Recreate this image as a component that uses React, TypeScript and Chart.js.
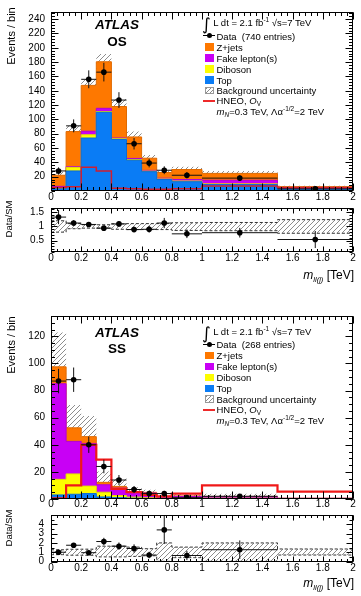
import React, { useEffect, useRef } from 'react';
import { Chart, registerables } from 'chart.js';

Chart.register(...registerables);

const FONT = "'Liberation Sans', Arial, Helvetica, sans-serif";
Chart.defaults.font.family = FONT;
Chart.defaults.color = '#000';

// ---------------- binning / ticks ----------------
const binEdges = [0, 0.1, 0.2, 0.3, 0.4, 0.5, 0.6, 0.7, 0.8, 1.0, 1.5, 2.0];
const xTickValues = [0, 0.2, 0.4, 0.6, 0.8, 1, 1.2, 1.4, 1.6, 1.8, 2];

// ---------------- OS ----------------
const osTop = [3, 28, 74, 110, 72, 43, 27, 16, 13, 9, 2];
const osDiboson = [0.5, 5, 4.5, 1, 1, 1, 0.8, 0.8, 1, 1, 0.5];
const osFake = [3, 1, 5, 4.5, 1, 1.5, 1, 1, 2, 5, 1];
const osZjets = [15.5, 49, 64, 65, 44, 30, 17, 8, 14, 9.6, 2.5];
const osSignal = [5, 6, 33, 28, 4, 3, 2.5, 2.5, 3, 7, 5];
const osData = [28, 91, 156, 166, 127, 66, 39, 29, 22, 18, 3];
const osDataErr = [5, 9, 12.5, 13, 11, 8, 6, 5.5, 4.5, 4, 2];
const osBandLo = [0.8, 0.92, 0.94, 0.94, 0.9, 0.89, 0.89, 0.89, 0.86, 0.85, 0.76];
const osBandHi = [1.2, 1.1, 1.06, 1.06, 1.09, 1.1, 1.1, 1.1, 1.13, 1.14, 1.24];
const osRatio = [1.33, 1.12, 1.07, 0.94, 1.09, 0.89, 0.9, 1.12, 0.74, 0.78, 0.54];
const osRatioErr = [0.25, 0.1, 0.08, 0.07, 0.09, 0.1, 0.12, 0.18, 0.15, 0.17, 0.3];
const osYTicks = [20, 40, 60, 80, 100, 120, 140, 160, 180, 200, 220, 240];
const osRatioTicks = [0.5, 1, 1.5];

// ---------------- SS ----------------
const ssTop = [3, 3.5, 4, 1.5, 1, 0.6, 0.4, 0.2, 0.2, 0.2, 0.1];
const ssDiboson = [11.5, 15, 5.5, 3.5, 1.5, 0.8, 0.5, 0.3, 0.5, 0.4, 0.2];
const ssFake = [70.5, 24, 31.5, 5.5, 5.5, 3.5, 3.5, 0.6, 1.2, 1.0, 0.2];
const ssZjets = [12.5, 10, 5, 1.8, 1.3, 0.7, 0.5, 0.2, 0.4, 0.3, 0.1];
const ssSignal = [0.5, 10, 40, 29, 7.5, 5, 3, 2, 4, 10, 5.5];
const ssData = [87, 88, 40, 24, 14, 7, 4, 4, 1, 2, null];
const ssDataErr = [9, 9, 6, 5, 3.7, 2.6, 2, 2, 1, 1.4, 0];
const ssBandLo = [0.74, 0.68, 0.67, 0.5, 0.5, 0.55, 0.62, 0.02, 0.42, 0.02, 0.7];
const ssBandHi = [1.26, 1.32, 1.33, 1.65, 1.65, 1.55, 1.38, 2.0, 1.55, 2.0, 1.35];
const ssRatio = [1.0, 1.75, 0.95, 2.15, 1.65, 1.4, 0.7, 3.4, 0.65, 1.27, null];
const ssRatioErr = [0.15, 0.2, 0.2, 0.4, 0.4, 0.45, 0.35, 1.5, 0.5, 1.0, 0];
const ssYTicks = [0, 20, 40, 60, 80, 100, 120];
const ssRatioTicks = [0, 1, 2, 3, 4];

// ---------------- colours ----------------
const C_Z = '#fe7800';
const C_FAKE = '#c800f5';
const C_DIB = '#fdfd00';
const C_TOP = '#0a7cf5';

// ---------------- helpers ----------------
const centers = binEdges.slice(0, -1).map((e, i) => (e + binEdges[i + 1]) / 2);
const halfWidths = binEdges.slice(0, -1).map((e, i) => (binEdges[i + 1] - e) / 2);

function steps(vals: number[]) {
  return binEdges.map((x, i) => ({ x, y: vals[Math.min(i, vals.length - 1)] }));
}
function addArr(...arrs: number[][]) {
  return arrs[0].map((_, i) => arrs.reduce((s, a) => s + a[i], 0));
}
function errorBars(vals: (number | null)[], errs: number[]) {
  const pts: any[] = [];
  vals.forEach((v, i) => {
    if (v == null) return;
    const c = centers[i];
    pts.push({ x: c - halfWidths[i], y: v }, { x: c + halfWidths[i], y: v }, { x: c, y: null });
    pts.push({ x: c, y: v - errs[i] }, { x: c, y: v + errs[i] }, { x: c, y: null });
  });
  return pts;
}
function points(vals: (number | null)[]) {
  return vals.map((v, i) => ({ x: centers[i], y: v }));
}
function fmt(v: number) {
  return String(Math.round(v * 100) / 100);
}

function makeHatch(): CanvasPattern | string {
  const s = 5;
  const pc = document.createElement('canvas');
  pc.width = s;
  pc.height = s;
  const c = pc.getContext('2d');
  if (!c) return 'rgba(120,120,120,0.4)';
  c.strokeStyle = '#808080';
  c.lineWidth = 0.9;
  c.beginPath();
  c.moveTo(0, s);
  c.lineTo(s, 0);
  c.moveTo(-1, 1);
  c.lineTo(1, -1);
  c.moveTo(s - 1, s + 1);
  c.lineTo(s + 1, s - 1);
  c.stroke();
  return c.createPattern(pc, 'repeat') || 'rgba(120,120,120,0.4)';
}

const framePlugin = {
  id: 'frameTicks',
  afterDatasetsDraw(chart: any, _args: any, opts: any) {
    const { ctx, chartArea: a, scales } = chart;
    const xs = scales.x;
    const ys = scales.y;
    const L = Math.round(a.left) + 0.5;
    const T = Math.round(a.top) + 0.5;
    const R = Math.round(a.right) - 0.5;
    const B = Math.round(a.bottom) - 0.5;
    ctx.save();
    ctx.strokeStyle = '#000';
    ctx.lineWidth = 1;
    ctx.beginPath();
    const vals = (scale: any, div: number) => {
      const majors = scale.ticks.map((t: any) => t.value);
      const step = majors.length > 1 ? majors[1] - majors[0] : 1;
      const ms = step / div;
      const minors: number[] = [];
      for (let v = majors[0] - step; v <= majors[majors.length - 1] + step + 1e-9; v += ms) {
        if (v < scale.min - 1e-9 || v > scale.max + 1e-9) continue;
        minors.push(v);
      }
      return { majors, minors };
    };
    const xv = vals(xs, opts.xDiv);
    const yv = vals(ys, opts.yDiv);
    const xt = (v: number, len: number) => {
      const p = Math.round(xs.getPixelForValue(v)) + 0.5;
      ctx.moveTo(p, B);
      ctx.lineTo(p, B - len);
      ctx.moveTo(p, T);
      ctx.lineTo(p, T + len);
    };
    const yt = (v: number, len: number) => {
      const p = Math.round(ys.getPixelForValue(v)) + 0.5;
      ctx.moveTo(L, p);
      ctx.lineTo(L + len, p);
      ctx.moveTo(R, p);
      ctx.lineTo(R - len, p);
    };
    xv.minors.forEach((v) => xt(v, opts.xMinor));
    xv.majors.forEach((v: number) => xt(v, opts.xMajor));
    yv.minors.forEach((v) => yt(v, opts.yMinor));
    yv.majors.forEach((v: number) => yt(v, opts.yMajor));
    ctx.stroke();
    ctx.strokeRect(L, T, R - L, B - T);
    ctx.restore();
  },
};

function baseOptions(p: {
  padTop: number;
  xHeight: number;
  xPad: number;
  yPad: number;
  yMin: number;
  yMax: number;
  yTicks: number[];
  frame: any;
}) {
  return {
    responsive: false,
    animation: false,
    events: [],
    layout: { padding: { top: p.padTop, right: 8, left: 0, bottom: 0 } },
    elements: { line: { tension: 0 }, point: { radius: 0 } },
    plugins: {
      legend: { display: false },
      tooltip: { enabled: false },
      title: { display: false },
      frameTicks: p.frame,
    },
    scales: {
      x: {
        type: 'linear',
        min: 0,
        max: 2,
        grid: { display: false, drawTicks: false },
        border: { display: false },
        ticks: {
          autoSkip: false,
          maxRotation: 0,
          padding: p.xPad,
          font: { size: 10, family: FONT },
          color: '#000',
          callback: (v: number) => fmt(v),
        },
        afterBuildTicks: (s: any) => {
          s.ticks = xTickValues.map((value) => ({ value }));
        },
        afterFit: (s: any) => {
          s.height = p.xHeight;
        },
      },
      y: {
        type: 'linear',
        min: p.yMin,
        max: p.yMax,
        grid: { display: false, drawTicks: false },
        border: { display: false },
        ticks: {
          autoSkip: false,
          padding: p.yPad,
          font: { size: 10, family: FONT },
          color: '#000',
          callback: (v: number) => fmt(v),
        },
        afterBuildTicks: (s: any) => {
          s.ticks = p.yTicks.map((value) => ({ value }));
        },
        afterFit: (s: any) => {
          s.width = 51;
        },
      },
    },
  };
}

function stepLine(extra: any) {
  return {
    stepped: 'before',
    pointRadius: 0,
    borderWidth: 0,
    fill: false,
    ...extra,
  };
}

function makeMain(
  canvas: HTMLCanvasElement,
  hatch: any,
  d: {
    top: number[];
    dib: number[];
    fake: number[];
    zj: number[];
    sig: number[];
    data: (number | null)[];
    err: number[];
    lo: number[];
    hi: number[];
    yMax: number;
    yTicks: number[];
    yDiv: number;
    padTop: number;
    xHeight: number;
    xPad: number;
    sigColor: string;
    sigWidth: number;
  }
) {
  const total = addArr(d.top, d.dib, d.fake, d.zj);
  const c3 = addArr(d.top, d.dib, d.fake);
  const c2 = addArr(d.top, d.dib);
  const hiV = total.map((t, i) => t * d.hi[i]);
  const loV = total.map((t, i) => t * d.lo[i]);
  return new Chart(canvas, {
    type: 'line',
    data: {
      datasets: [
        stepLine({ label: 'band lo', data: steps(loV), order: 20 }),
        stepLine({ label: 'Background uncertainty', data: steps(hiV), fill: '-1', backgroundColor: hatch, order: 19 }),
        stepLine({ label: 'Z+jets', data: steps(total), fill: 'origin', backgroundColor: C_Z, borderColor: '#e06a00', borderWidth: 1, order: 9 }),
        stepLine({ label: 'Fake lepton(s)', data: steps(c3), fill: 'origin', backgroundColor: C_FAKE, borderColor: '#b000d8', borderWidth: 1, order: 8 }),
        stepLine({ label: 'Diboson', data: steps(c2), fill: 'origin', backgroundColor: C_DIB, borderColor: '#e0e000', borderWidth: 1, order: 7 }),
        stepLine({ label: 'Top', data: steps(d.top), fill: 'origin', backgroundColor: C_TOP, borderColor: '#086ad8', borderWidth: 1, order: 6 }),
        stepLine({ label: 'HNEO', data: steps(d.sig), borderColor: d.sigColor, borderWidth: d.sigWidth, order: 3 }),
        { label: 'Data err', data: errorBars(d.data, d.err), borderColor: '#111', borderWidth: 1, pointRadius: 0, fill: false, spanGaps: false, order: 2 },
        { label: 'Data', data: points(d.data), showLine: false, pointRadius: 2.8, pointBackgroundColor: '#000', pointBorderColor: '#000', pointBorderWidth: 0, order: 1 },
      ],
    },
    options: baseOptions({
      padTop: d.padTop,
      xHeight: d.xHeight,
      xPad: d.xPad,
      yPad: 6,
      yMin: 0,
      yMax: d.yMax,
      yTicks: d.yTicks,
      frame: { xDiv: 5, yDiv: d.yDiv, xMajor: 7, xMinor: 3.5, yMajor: 7, yMinor: 3.5 },
    }) as any,
    plugins: [framePlugin as any],
  });
}

function makeRatio(
  canvas: HTMLCanvasElement,
  hatch: any,
  d: {
    ratio: (number | null)[];
    err: number[];
    lo: number[];
    hi: number[];
    yMin: number;
    yMax: number;
    yTicks: number[];
    yDiv: number;
    padTop: number;
    xHeight: number;
    xPad: number;
  }
) {
  return new Chart(canvas, {
    type: 'line',
    data: {
      datasets: [
        stepLine({ label: 'band lo', data: steps(d.lo), borderColor: '#333', borderWidth: 1, borderDash: [3, 2], order: 20 }),
        stepLine({ label: 'band hi', data: steps(d.hi), borderColor: '#333', borderWidth: 1, borderDash: [3, 2], fill: '-1', backgroundColor: hatch, order: 19 }),
        { label: 'ratio err', data: errorBars(d.ratio, d.err), borderColor: '#111', borderWidth: 1, pointRadius: 0, fill: false, spanGaps: false, order: 2 },
        { label: 'ratio', data: points(d.ratio), showLine: false, pointRadius: 2.8, pointBackgroundColor: '#000', pointBorderColor: '#000', pointBorderWidth: 0, order: 1 },
      ],
    },
    options: baseOptions({
      padTop: d.padTop,
      xHeight: d.xHeight,
      xPad: d.xPad,
      yPad: 7,
      yMin: d.yMin,
      yMax: d.yMax,
      yTicks: d.yTicks,
      frame: { xDiv: 5, yDiv: d.yDiv, xMajor: 5, xMinor: 2.5, yMajor: 6, yMinor: 3 },
    }) as any,
    plugins: [framePlugin as any],
  });
}

// ---------------- HTML text parts ----------------
const abs = (style: any) => ({ position: 'absolute' as const, whiteSpace: 'nowrap' as const, ...style });
const sup = (t: string) => <span style={{ fontSize: 6.5, position: 'relative', top: -4 }}>{t}</span>;
const sub = (t: any) => <span style={{ fontSize: 6.5, position: 'relative', top: 2 }}>{t}</span>;

function Legend({ y0, entries }: { y0: number; entries: number }) {
  const rowY = (i: number) => y0 + 12.7 + i * 10.95;
  const txt = (i: number, content: any) => (
    <div style={abs({ left: 216.5, top: rowY(i), transform: 'translateY(-50%)', fontSize: 9.5, lineHeight: '11px' })}>{content}</div>
  );
  const box = (i: number, bg: string, extra: any = {}) => (
    <div style={abs({ left: 205, top: rowY(i) - 3.5, width: 8.5, height: 7.5, background: bg, boxSizing: 'border-box', ...extra })} />
  );
  return (
    <>
      <div style={abs({ left: 202, top: y0 + 1, transform: 'translateY(-50%)', fontSize: 17, lineHeight: '18px', fontFamily: "'DejaVu Sans', sans-serif" })}>∫</div>
      <div style={abs({ left: 213.3, top: y0, transform: 'translateY(-50%)', fontSize: 9.5, lineHeight: '11px' })}>
        L dt = 2.1 fb{sup('-1')} √s=7 TeV
      </div>
      {/* data marker */}
      <div style={abs({ left: 203, top: rowY(0) - 0.5, width: 12, height: 1, background: '#000' })} />
      <div style={abs({ left: 206.5, top: rowY(0) - 2.5, width: 5, height: 5, borderRadius: '50%', background: '#000' })} />
      {txt(0, <>Data&nbsp; ({entries} entries)</>)}
      {box(1, C_Z)}
      {txt(1, 'Z+jets')}
      {box(2, C_FAKE)}
      {txt(2, 'Fake lepton(s)')}
      {box(3, C_DIB)}
      {txt(3, 'Diboson')}
      {box(4, C_TOP)}
      {txt(4, 'Top')}
      {box(5, 'repeating-linear-gradient(135deg, #8a8a8a 0px, #8a8a8a 1px, #ffffff 1px, #ffffff 3px)', { border: '1px solid #999' })}
      {txt(5, 'Background uncertainty')}
      <div style={abs({ left: 203, top: rowY(6) - 1, width: 12, height: 2, background: '#ee2a2a' })} />
      {txt(6, <>HNEO, <i>O</i>{sub('V')}</>)}
      {txt(7, <><i>m</i>{sub(<i>N</i>)}=0.3 TeV, Λα{sup('-1/2')}=2 TeV</>)}
    </>
  );
}

function RotText({ cx, cy, size, text }: { cx: number; cy: number; size: number; text: string }) {
  return (
    <div style={abs({ left: cx, top: cy, transform: 'translate(-50%, -50%) rotate(-90deg)', fontSize: size, lineHeight: `${size + 2}px` })}>{text}</div>
  );
}

function XTitle({ cy }: { cy: number }) {
  return (
    <div style={abs({ right: 7, top: cy, transform: 'translateY(-50%)', fontSize: 12, lineHeight: '14px' })}>
      <i>m</i>
      <span style={{ fontSize: 7.5, position: 'relative', top: 3, fontStyle: 'italic' }}>ll(j)</span> [TeV]
    </div>
  );
}

function AtlasLabel({ y1, y2, tag }: { y1: number; y2: number; tag: string }) {
  return (
    <>
      <div style={abs({ left: 117, top: y1, transform: 'translate(-50%, -50%)', fontSize: 13.5, fontWeight: 'bold', fontStyle: 'italic', lineHeight: '15px' })}>ATLAS</div>
      <div style={abs({ left: 117, top: y2, transform: 'translate(-50%, -50%)', fontSize: 13.5, fontWeight: 'bold', lineHeight: '15px' })}>{tag}</div>
    </>
  );
}

export default function App() {
  const r1 = useRef<HTMLCanvasElement>(null);
  const r2 = useRef<HTMLCanvasElement>(null);
  const r3 = useRef<HTMLCanvasElement>(null);
  const r4 = useRef<HTMLCanvasElement>(null);

  useEffect(() => {
    document.body.style.margin = '0';
    const hatch = makeHatch();
    const charts: Chart[] = [];
    if (r1.current)
      charts.push(
        makeMain(r1.current, hatch, {
          top: osTop, dib: osDiboson, fake: osFake, zj: osZjets, sig: osSignal,
          data: osData, err: osDataErr, lo: osBandLo, hi: osBandHi,
          yMax: 250, yTicks: osYTicks, yDiv: 5, padTop: 8, xHeight: 13, xPad: 0,
          sigColor: '#d01e30', sigWidth: 1.5,
        })
      );
    if (r2.current)
      charts.push(
        makeRatio(r2.current, hatch, {
          ratio: osRatio, err: osRatioErr, lo: osBandLo, hi: osBandHi,
          yMin: 0.1, yMax: 1.65, yTicks: osRatioTicks, yDiv: 5, padTop: 6, xHeight: 18, xPad: 0,
        })
      );
    if (r3.current)
      charts.push(
        makeMain(r3.current, hatch, {
          top: ssTop, dib: ssDiboson, fake: ssFake, zj: ssZjets, sig: ssSignal,
          data: ssData, err: ssDataErr, lo: ssBandLo, hi: ssBandHi,
          yMax: 135, yTicks: ssYTicks, yDiv: 4, padTop: 16, xHeight: 14, xPad: -1,
          sigColor: '#f01818', sigWidth: 2.2,
        })
      );
    if (r4.current)
      charts.push(
        makeRatio(r4.current, hatch, {
          ratio: ssRatio, err: ssRatioErr, lo: ssBandLo, hi: ssBandHi,
          yMin: -0.05, yMax: 5, yTicks: ssRatioTicks, yDiv: 2, padTop: 6, xHeight: 20, xPad: 0,
        })
      );
    return () => charts.forEach((c) => c.destroy());
  }, []);

  return (
    <div style={{ position: 'relative', width: 361, height: 596, background: '#fff', overflow: 'hidden', fontFamily: FONT, color: '#000' }}>
      <canvas ref={r1} width={361} height={204} style={{ position: 'absolute', left: 0, top: 0 }} />
      <canvas ref={r2} width={361} height={75} style={{ position: 'absolute', left: 0, top: 195 }} />
      <canvas ref={r3} width={361} height={213} style={{ position: 'absolute', left: 0, top: 300 }} />
      <canvas ref={r4} width={361} height={80} style={{ position: 'absolute', left: 0, top: 502 }} />

      <RotText cx={11} cy={36} size={11} text="Events / bin" />
      <RotText cx={8.5} cy={219} size={9.5} text="Data/SM" />
      <RotText cx={11} cy={344.5} size={11} text="Events / bin" />
      <RotText cx={8.5} cy={528} size={9.5} text="Data/SM" />

      <XTitle cy={276} />
      <XTitle cy={584} />

      <AtlasLabel y1={24} y2={40.7} tag="OS" />
      <AtlasLabel y1={332.3} y2={348.3} tag="SS" />

      <Legend y0={23} entries={740} />
      <Legend y0={331.5} entries={268} />
    </div>
  );
}
